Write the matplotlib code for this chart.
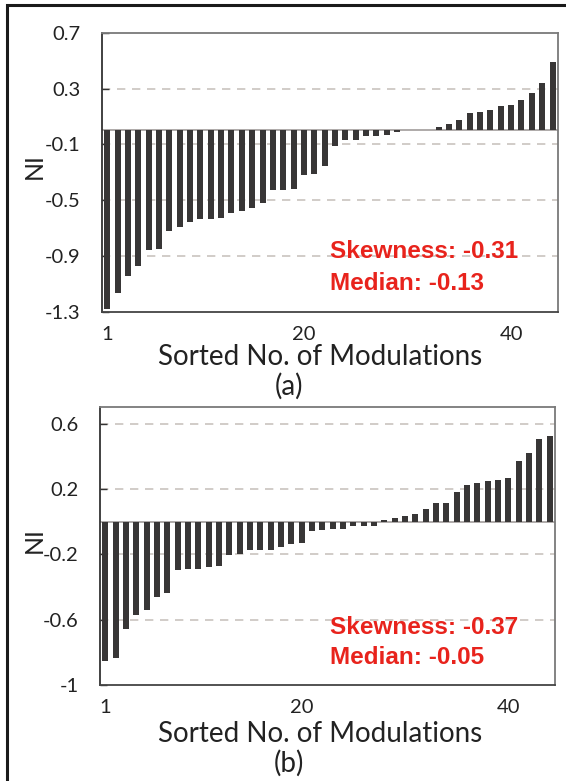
import matplotlib
matplotlib.use("Agg")
import matplotlib.pyplot as plt
import matplotlib.patches as mpatches
import numpy as np

# ---- data ----
values_a = [-1.284, -1.168, -1.043, -0.971, -0.858, -0.851, -0.718, -0.694, -0.658, -0.634,
            -0.634, -0.627, -0.591, -0.579, -0.555, -0.521, -0.430, -0.430, -0.418, -0.321,
            -0.314, -0.254, -0.110, -0.069, -0.069, -0.040, -0.040, -0.032, -0.013, 0.0,
            0.0, 0.0, 0.025, 0.045, 0.071, 0.121, 0.134, 0.143, 0.175, 0.182,
            0.218, 0.266, 0.338, 0.492]
values_b = [-0.853, -0.836, -0.655, -0.574, -0.540, -0.462, -0.436, -0.296, -0.290, -0.290,
            -0.280, -0.273, -0.202, -0.198, -0.172, -0.172, -0.172, -0.157, -0.137, -0.133,
            -0.060, -0.050, -0.046, -0.046, -0.029, -0.029, -0.026, 0.011, 0.021, 0.035,
            0.046, 0.076, 0.115, 0.115, 0.184, 0.223, 0.237, 0.247, 0.257, 0.267,
            0.373, 0.418, 0.509, 0.523]
yticks_a = [0.7, 0.3, -0.1, -0.5, -0.9, -1.3]
yticks_b = [0.6, 0.2, -0.2, -0.6, -1.0]
yticklabels_a = ["0.7", "0.3", "-0.1", "-0.5", "-0.9", "-1.3"]
yticklabels_b = ["0.6", "0.2", "-0.2", "-0.6", "-1"]
xticks = [1, 20, 40]
stats_a = ["Skewness: -0.31", "Median: -0.13"]
stats_b = ["Skewness: -0.37", "Median: -0.05"]
panel_labels = ["(a)", "(b)"]
xlabel_text = "Sorted No. of Modulations"
ylabel_text = "NI"

W, H = 566, 781
fig = plt.figure(figsize=(W / 100, H / 100), dpi=100)

FONT = ["Lato", "DejaVu Sans"]
BAR = "#383636"
GRID = "#c9c3bf"
SPINE = "#7a7a7a"
RED = "#e8231c"
TXT = "#222222"

def px_axes(l, t, r, b):
    return [l / W, 1 - b / H, (r - l) / W, (b - t) / H]

# outer frame (left/top visible)
fig.patches.append(mpatches.Rectangle((7 / W, -0.05), 1.2, (H - 5) / H + 0.05,
                                      transform=fig.transFigure, fill=False,
                                      edgecolor="#1a1a1a", linewidth=2.2))

def draw(rect, vals, yt, ytl, ylim, stats, stat_y, ylab_y, panel_lab, xlab_y, panel_y):
    ax = fig.add_axes(px_axes(*rect))
    n = len(vals)
    x = np.arange(1, n + 1)
    ax.bar(x, vals, width=0.58, color=BAR, zorder=3)
    ax.set_xlim(0.5, n + 0.5)
    ax.set_ylim(*ylim)
    for t in yt:
        if ylim[0] < t < ylim[1]:
            ax.axhline(t, color=GRID, lw=1.2, ls=(0, (5, 4)), zorder=1)
    ax.axhline(0, color="#a8a4a2", lw=1.3, zorder=2)
    ax.set_yticks(yt)
    ax.set_yticklabels(ytl, fontfamily=FONT, fontsize=14.5, color=TXT)
    ax.set_xticks(xticks)
    ax.set_xticklabels([str(v) for v in xticks], fontfamily=FONT, fontsize=14.5, color=TXT)
    ax.tick_params(axis="y", direction="in", length=5, width=1, color="#333", pad=15.5)
    ax.tick_params(axis="x", length=0, pad=10)
    for s in ax.spines.values():
        s.set_color(SPINE)
        s.set_linewidth(1.3)
    ax.spines["left"].set_color("#333")
    ax.spines["bottom"].set_color("#444")
    fig.text(320 / W, 1 - xlab_y / H, xlabel_text, fontfamily=FONT, fontsize=20,
             color=TXT, ha="center", va="center")
    fig.text(34 / W, 1 - ylab_y / H, ylabel_text, fontfamily=FONT, fontsize=18,
             color=TXT, ha="center", va="center", rotation=90)
    for s, yy in zip(stats, stat_y):
        fig.text(330 / W, 1 - yy / H, s, fontfamily=["Liberation Sans", "DejaVu Sans"],
                 fontweight="bold", fontsize=17.5, color=RED, va="center", ha="left")
    fig.text(289 / W, 1 - panel_y / H, panel_lab, fontfamily=FONT, fontsize=20,
             color=TXT, ha="center", va="center")
    return ax

draw((102, 32.7, 557.7, 311.7), values_a, yticks_a, yticklabels_a, (-1.3, 0.7),
     stats_a, (252, 283), 166, panel_labels[0], 357, 386)
draw((100, 407.3, 555, 685), values_b, yticks_b, yticklabels_b, (-1.0, 0.7),
     stats_b, (627, 657), 540, panel_labels[1], 734, 763)

fig.savefig("out.png", dpi=100)
